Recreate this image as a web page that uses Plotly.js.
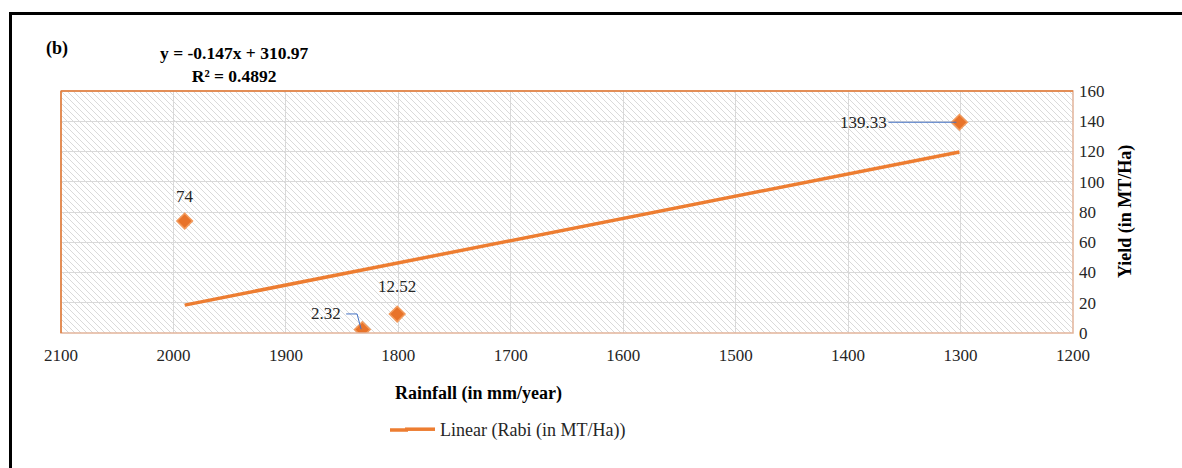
<!DOCTYPE html>
<html>
<head>
<meta charset="utf-8">
<script src="https://cdn.plot.ly/plotly-3.0.1.min.js"></script>
<style>
  html, body { margin: 0; padding: 0; background: #fff; }
  #wrap { position: relative; width: 1182px; height: 468px; overflow: hidden; }
  #chart { position: absolute; left: 0; top: 0; width: 1182px; height: 468px; }
  #frame { position: absolute; left: 9px; top: 12px; width: 1200px; height: 500px;
           border-left: 3px solid #000; border-top: 3px solid #000; pointer-events: none; }
</style>
</head>
<body>
<div id="wrap">
  <div id="chart"></div>
  <div id="frame"></div>
</div>
<script>
// Rabi yield against annual rainfall
const rainfall = [1990, 1832, 1801, 1301];          // mm/year
const yieldRabi = [74, 2.32, 12.52, 139.33];       // MT/Ha
const pointLabels = ['74', '2.32', '12.52', '139.33'];

// Fitted linear trend, as stated on the chart
const slope = -0.147;
const intercept = 310.97;
const r2 = 0.4892;

const xTicks = [2100, 2000, 1900, 1800, 1700, 1600, 1500, 1400, 1300, 1200];
const yTicks = [0, 20, 40, 60, 80, 100, 120, 140, 160];

const SERIF = '"Liberation Serif", "Times New Roman", serif';
const ORANGE = '#ED7D31';

// plot-area geometry in pixels, used to place paper-referenced text
const PL = 61, PW = 1012, PB = 333, PH = 242;
const px = v => (v - PL) / PW;
const py = v => (PB - v) / PH;

// trend line runs across the observed rainfall range
const xMin = Math.min(...rainfall), xMax = Math.max(...rainfall);
const trendX = [xMax, xMin];
const trendY = trendX.map(x => slope * x + intercept);

// diagonal hatch fill for the plotting area
const hatchSvg =
  "<svg xmlns='http://www.w3.org/2000/svg' width='1012' height='242'>" +
  "<defs><pattern id='h' width='6' height='6' patternUnits='userSpaceOnUse'>" +
  "<path d='M0,0 L6,6 M-1,5 L1,7 M5,-1 L7,1' stroke='#dadada' stroke-width='1'/>" +
  "</pattern></defs><rect width='100%' height='100%' fill='#ffffff'/>" +
  "<rect width='100%' height='100%' fill='url(#h)'/></svg>";
const hatchUri = 'data:image/svg+xml;charset=utf-8,' + encodeURIComponent(hatchSvg);

const traces = [
  {
    x: trendX, y: trendY, type: 'scatter', mode: 'lines',
    name: 'Linear (Rabi (in MT/Ha))',
    line: { color: ORANGE, width: 3.5 },
    showlegend: true, hoverinfo: 'skip'
  },
  {
    x: rainfall, y: yieldRabi, type: 'scatter', mode: 'markers',
    name: 'Rabi (in MT/Ha)',
    marker: { symbol: 'diamond', size: 12, color: '#E8732A',
              line: { color: '#F29A5C', width: 1.5 } },
    showlegend: false
  }
];

const labelFont = { family: SERIF, size: 17, color: '#262626' };
const boldFont = { family: SERIF, size: 18, color: '#000' };

const annotations = [
  // point labels
  { x: rainfall[0], y: yieldRabi[0], text: pointLabels[0], showarrow: false,
    yshift: 25, font: labelFont },
  { x: rainfall[2], y: yieldRabi[2], text: pointLabels[2], showarrow: false,
    yshift: 28, font: labelFont },
  { x: rainfall[1], y: yieldRabi[1], text: pointLabels[1], showarrow: false,
    xshift: -36, yshift: 16, font: labelFont },
  { x: rainfall[3], y: yieldRabi[3], text: pointLabels[3], showarrow: true,
    ax: -96, ay: 0, arrowhead: 0, arrowwidth: 1, arrowcolor: '#4472C4',
    standoff: 3, font: labelFont },
  // trend equation
  { xref: 'paper', yref: 'paper', x: px(234), y: py(64), xanchor: 'center', yanchor: 'middle',
    text: '<b>y = ' + slope + 'x + ' + intercept.toFixed(2) + '</b><br><b>R² = ' + r2 + '</b>',
    align: 'center', showarrow: false,
    font: { family: SERIF, size: 17.5, color: '#000' } },
  // panel letter
  { xref: 'paper', yref: 'paper', x: px(56.5), y: py(48), xanchor: 'center', yanchor: 'middle',
    text: '<b>(b)</b>', showarrow: false, font: boldFont },
  // axis titles
  { xref: 'paper', yref: 'paper', x: px(478), y: py(393), xanchor: 'center', yanchor: 'middle',
    text: '<b>Rainfall (in mm/year)</b>', showarrow: false, font: boldFont },
  { xref: 'paper', yref: 'paper', x: px(1125), y: py(212), xanchor: 'center', yanchor: 'middle',
    text: '<b>Yield (in MT/Ha)</b>', textangle: -90, showarrow: false, font: boldFont }
];

const shapes = [
  // elbow leader for the 2.32 label
  { type: 'path', xref: 'x', yref: 'y',
    path: 'M 1846.4 12.6 L 1836.7 12.6 L 1833.1 2.5',
    line: { color: '#4472C4', width: 1 } },
  // plot border: light right/bottom, orange top/left
  { type: 'rect', xref: 'paper', yref: 'paper', x0: 0, x1: 1, y0: 0, y1: 1,
    line: { color: '#E2B49A', width: 1.5 }, layer: 'above' },
  { type: 'line', xref: 'paper', yref: 'paper', x0: 0, x1: 1, y0: 1, y1: 1,
    line: { color: '#E07B39', width: 1.5 }, layer: 'above' },
  { type: 'line', xref: 'paper', yref: 'paper', x0: 0, x1: 0, y0: 0, y1: 1,
    line: { color: '#E07B39', width: 1.5 }, layer: 'above' },
  // lengthen the legend's line sample
  { type: 'line', xref: 'paper', yref: 'paper', x0: px(390), x1: px(408),
    y0: py(430), y1: py(430), line: { color: ORANGE, width: 3.5 } }
];

const layout = {
  width: 1182, height: 468,
  margin: { l: PL, r: 1182 - PL - PW, t: PB - PH, b: 468 - PB },
  paper_bgcolor: '#ffffff', plot_bgcolor: '#ffffff',
  font: { family: SERIF, size: 17, color: '#262626' },
  xaxis: {
    range: [2100, 1200], tickvals: xTicks, ticktext: xTicks.map(String),
    showgrid: true, gridcolor: '#d9d9d9', gridwidth: 1,
    zeroline: false, showline: false, ticks: '',
    ticklabelstandoff: 10,
    tickfont: { family: SERIF, size: 17, color: '#262626' }
  },
  yaxis: {
    side: 'right', range: [0, 160], tickvals: yTicks, ticktext: yTicks.map(String),
    showgrid: true, gridcolor: '#d9d9d9', gridwidth: 1,
    zeroline: false, showline: false, ticks: '',
    ticklabelstandoff: 5,
    tickfont: { family: SERIF, size: 17, color: '#262626' }
  },
  legend: {
    orientation: 'h', x: px(400), y: py(411),
    xanchor: 'left', yanchor: 'top',
    font: { family: SERIF, size: 18, color: '#262626' },
    bgcolor: 'rgba(0,0,0,0)'
  },
  images: [{
    source: hatchUri, xref: 'paper', yref: 'paper',
    x: 0, y: 1, sizex: 1, sizey: 1, sizing: 'stretch',
    xanchor: 'left', yanchor: 'top', layer: 'below'
  }],
  annotations: annotations,
  shapes: shapes,
  showlegend: true
};

Plotly.newPlot('chart', traces, layout, { displayModeBar: false, staticPlot: true });
</script>
</body>
</html>
